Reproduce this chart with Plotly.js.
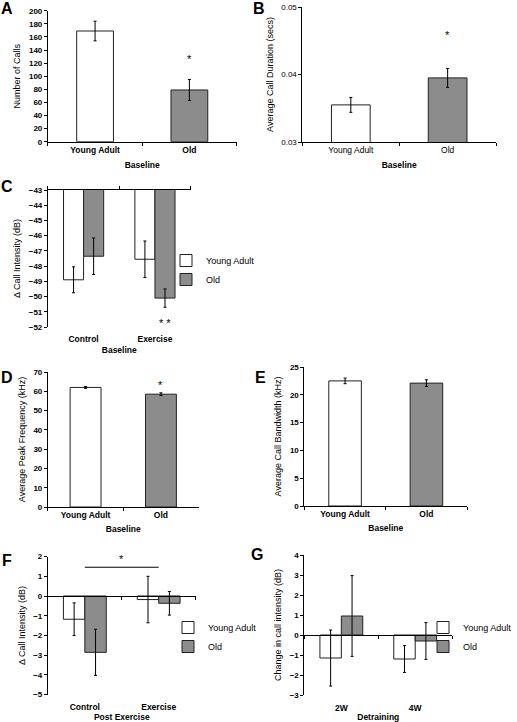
<!DOCTYPE html>
<html>
<head>
<meta charset="utf-8">
<script src="https://cdn.plot.ly/plotly-3.0.1.min.js"></script>
<style>html,body{margin:0;padding:0;background:#fff;}#chart{width:517px;height:722px;}</style>
</head>
<body>
<div id="chart"></div>
<script>
// ---------- data ----------
const baselineGroups = ['Young Adult', 'Old'];
const callsMean = [169, 79];
const callsErr = [15, 16];
const durationMean = [0.0355, 0.0395];
const durationErr = [0.0011, 0.0014];
const intensityCats = ['Control', 'Exercise'];
const intensityYA = [-48.9, -47.55];
const intensityYAErr = [0.85, 1.2];
const intensityOld = [-47.35, -50.1];
const intensityOldErr = [1.2, 0.6];
const peakMean = [62, 58.5];
const peakErr = [0.5, 0.7];
const bandwidthMean = [22.5, 22.1];
const bandwidthErr = [0.5, 0.6];
const postCats = ['Control', 'Exercise'];
const postYA = [-1.18, -0.18];
const postYAErr = [0.83, 1.18];
const postOld = [-2.86, -0.37];
const postOldErr = [1.17, 0.6];
const detrCats = ['2W', '4W'];
const detrYA = [-1.15, -1.2];
const detrYAErr = [1.4, 0.67];
const detrOld = [0.95, -0.3];
const detrOldErr = [2.02, 0.92];
const seriesNames = ['Young Adult', 'Old'];
// significance markers: [category, level]
const starA = ['Old', 126];
const starB = ['Old', 0.0458];
const starD = ['Old', 63.5];
const starC = ['Exercise', -51.75];
const sigF = ['Control', 'Exercise', 1.46];

// ---------- style ----------
const W = 517, H = 722;
const FONT = 'Liberation Sans, Arial, sans-serif';
const YA_FILL = '#ffffff', OLD_FILL = '#8c8c8c', EDGE = '#222222';
const px = (a, b) => [a / W, b / W];
const py = (top, bottom) => [1 - bottom / H, 1 - top / H];

function bar(xa, ya, x, y, err, fill, name, opts) {
  return Object.assign({
    type: 'bar', x: x, y: y, name: name, xaxis: xa, yaxis: ya,
    marker: {color: fill, line: {color: EDGE, width: 1}},
    error_y: {type: 'data', array: err, visible: true, color: '#000', thickness: 1, width: 1.5},
    showlegend: false, hoverinfo: 'skip'
  }, opts || {});
}
// placeholder trace so that an axis-line-only overlay axis gets drawn
function holder(xa, ya) {
  return {type: 'scatter', mode: 'markers', x: [null], y: [null], xaxis: xa, yaxis: ya,
          showlegend: false, hoverinfo: 'skip', marker: {opacity: 0}};
}

const gw = 0.29; // grouped bar width
const traces = [
  bar('x', 'y', baselineGroups, callsMean, callsErr, [YA_FILL, OLD_FILL], 'A', {width: 0.39}),
  bar('x2', 'y2', baselineGroups, durationMean, durationErr, [YA_FILL, OLD_FILL], 'B', {width: 0.40}),
  bar('x3', 'y3', intensityCats, intensityYA, intensityYAErr, YA_FILL, seriesNames[0], {width: gw * 0.97, offset: -gw * 0.97, showlegend: true, legend: 'legend'}),
  bar('x3', 'y3', intensityCats, intensityOld, intensityOldErr, OLD_FILL, seriesNames[1], {width: gw * 0.97, offset: 0, showlegend: true, legend: 'legend'}),
  bar('x4', 'y4', baselineGroups, peakMean, peakErr, [YA_FILL, OLD_FILL], 'D', {width: 0.41}),
  bar('x5', 'y5', baselineGroups, bandwidthMean, bandwidthErr, [YA_FILL, OLD_FILL], 'E', {width: 0.40}),
  bar('x6', 'y6', postCats, postYA, postYAErr, YA_FILL, seriesNames[0], {width: gw, offset: -gw, showlegend: true, legend: 'legend2'}),
  bar('x6', 'y6', postCats, postOld, postOldErr, OLD_FILL, seriesNames[1], {width: gw, offset: 0, showlegend: true, legend: 'legend2'}),
  bar('x7', 'y7', detrCats, detrYA, detrYAErr, YA_FILL, seriesNames[0], {width: gw, offset: -gw, showlegend: true, legend: 'legend3'}),
  bar('x7', 'y7', detrCats, detrOld, detrOldErr, OLD_FILL, seriesNames[1], {width: gw, offset: 0, showlegend: true, legend: 'legend3'}),
  holder('x8', 'y3'), holder('x9', 'y6'), holder('x10', 'y7')
];

const tickFont = (bold) => ({family: FONT, size: 8, color: '#000', weight: bold ? 'bold' : 'normal'});
function yAxis(domain, anchor, range, dtick, title, bold) {
  return {
    domain: domain, anchor: anchor, range: range, dtick: dtick, tick0: range[0],
    showgrid: false, zeroline: false, showline: true, linecolor: '#000', linewidth: 1,
    ticks: 'outside', ticklen: 3, tickcolor: '#000', tickwidth: 1,
    tickfont: tickFont(bold), fixedrange: true,
    title: {text: title, font: {family: FONT, size: 9, color: '#000'}, standoff: 6}
  };
}
function xAxis(domain, anchor, title, bold, withLine, nCats, labelGap, titleGap) {
  return {
    domain: domain, anchor: anchor, type: 'category', range: [-0.5, nCats - 0.5],
    showgrid: false, zeroline: false, showline: withLine, linecolor: '#000', linewidth: 1,
    ticks: withLine ? 'outside' : '', tickson: 'boundaries', ticklen: 3, tickcolor: '#000',
    ticklabelstandoff: labelGap || 0,
    tickfont: {family: FONT, size: 8.5, color: '#000', weight: bold ? 'bold' : 'normal'},
    fixedrange: true,
    title: {text: '<b>' + title + '</b>', font: {family: FONT, size: 8.5, color: '#000'}, standoff: titleGap || 5}
  };
}
// axis line through a given y level, with tick marks at category boundaries
function crossAxis(over, yAnchor, yDomain, yRange, crossAt, nCats, side) {
  const frac = (crossAt - yRange[0]) / (yRange[1] - yRange[0]);
  const ax = {
    overlaying: over, side: side,
    range: [-0.5, nCats - 0.5], tick0: -0.5, dtick: 1,
    showgrid: false, zeroline: false, showline: true, linecolor: '#000', linewidth: 1,
    ticks: 'outside', ticklen: 3, tickcolor: '#000', showticklabels: false, fixedrange: true
  };
  if (side === 'top') { ax.anchor = yAnchor; }
  else { ax.anchor = 'free'; ax.position = yDomain[0] + frac * (yDomain[1] - yDomain[0]); }
  return ax;
}

const dA = {x: px(48, 237), y: py(10.7, 141.7)};
const dB = {x: px(303, 497), y: py(7, 142)};
const dC = {x: px(48, 191), y: py(190, 327)};
const dD = {x: px(48, 199), y: py(372, 507)};
const dE = {x: px(305, 468), y: py(367, 506)};
const dF = {x: px(48, 196), y: py(556.6, 694.5)};
const dG = {x: px(305, 453), y: py(555, 695)};
const rC = [-52, -43], rF = [-5, 2], rG = [-3, 4];

const layout = {
  width: W, height: H, margin: {l: 0, r: 0, t: 0, b: 0},
  paper_bgcolor: '#fff', plot_bgcolor: 'rgba(0,0,0,0)',
  font: {family: FONT, color: '#000'},
  barmode: 'overlay',
  xaxis: xAxis(dA.x, 'y', 'Baseline', true, true, baselineGroups.length, 0, 8),
  yaxis: yAxis(dA.y, 'x', [0, 200], 20, 'Number of Calls', true),
  xaxis2: xAxis(dB.x, 'y2', 'Baseline', false, true, baselineGroups.length, 0, 7),
  yaxis2: yAxis(dB.y, 'x2', [0.03, 0.05], 0.01, 'Average Call Duration (secs)', false),
  xaxis3: xAxis(dC.x, 'y3', 'Baseline', true, false, intensityCats.length, 5, 4),
  yaxis3: yAxis(dC.y, 'x3', rC, 1, 'Δ Call Intensity (dB)', true),
  xaxis4: xAxis(dD.x, 'y4', 'Baseline', true, true, baselineGroups.length, 0, 6),
  yaxis4: yAxis(dD.y, 'x4', [0, 70], 10, 'Average Peak Frequency (kHz)', true),
  xaxis5: xAxis(dE.x, 'y5', 'Baseline', true, true, baselineGroups.length, 0, 6),
  yaxis5: yAxis(dE.y, 'x5', [0, 25], 5, 'Average Call Bandwidth (kHz)', true),
  xaxis6: xAxis(dF.x, 'y6', 'Post Exercise', true, false, postCats.length, 6, 4),
  yaxis6: yAxis(dF.y, 'x6', rF, 1, 'Δ Call Intensity (dB)', true),
  xaxis7: xAxis(dG.x, 'y7', 'Detraining', true, false, detrCats.length, 6, 4),
  yaxis7: yAxis(dG.y, 'x7', rG, 1, 'Change in call intensity (dB)', true),
  xaxis8: crossAxis('x3', 'y3', dC.y, rC, rC[1], intensityCats.length, 'top'),
  xaxis9: crossAxis('x6', 'y6', dF.y, rF, 0, postCats.length, 'bottom'),
  xaxis10: crossAxis('x7', 'y7', dG.y, rG, 0, detrCats.length, 'bottom'),
  legend: {x: 166 / W, y: 1 - 270 / H, xanchor: 'left', yanchor: 'middle', bgcolor: 'rgba(0,0,0,0)',
           font: {family: FONT, size: 9, color: '#000'}, tracegroupgap: 0},
  legend2: {x: 168 / W, y: 1 - 637 / H, xanchor: 'left', yanchor: 'middle', bgcolor: 'rgba(0,0,0,0)',
           font: {family: FONT, size: 9, color: '#000'}, tracegroupgap: 0},
  legend3: {x: 424 / W, y: 1 - 637 / H, xanchor: 'left', yanchor: 'middle', bgcolor: 'rgba(0,0,0,0)',
           font: {family: FONT, size: 9, color: '#000'}, tracegroupgap: 0},
  shapes: [
    {type: 'line', xref: 'x6', yref: 'y6', x0: postCats.indexOf(sigF[0]), x1: postCats.indexOf(sigF[1]),
     y0: sigF[2], y1: sigF[2], line: {color: '#000', width: 1}}
  ],
  annotations: []
};

const starFont = {family: FONT, size: 11, color: '#000'};
layout.annotations.push(
  {xref: 'x', yref: 'y', x: starA[0], y: starA[1], text: '*', showarrow: false, font: starFont},
  {xref: 'x2', yref: 'y2', x: starB[0], y: starB[1], text: '*', showarrow: false, font: starFont},
  {xref: 'x4', yref: 'y4', x: starD[0], y: starD[1], text: '*', showarrow: false, font: starFont},
  {xref: 'x3', yref: 'y3', x: intensityCats.indexOf(starC[0]) + gw / 2, y: starC[1], text: '* *', showarrow: false, font: starFont},
  {xref: 'x6', yref: 'y6', x: (postCats.indexOf(sigF[0]) + postCats.indexOf(sigF[1])) / 2, y: sigF[2], yanchor: 'bottom',
   text: '*', showarrow: false, font: starFont}
);
// panel letters
const letters = [['A', 7, 8], ['B', 260, 9], ['C', 7, 186], ['D', 7, 377], ['E', 261, 377], ['F', 7, 560], ['G', 257, 554]];
letters.forEach(([t, lx, ly]) => layout.annotations.push({
  xref: 'paper', yref: 'paper', x: lx / W, y: 1 - ly / H, xanchor: 'center', yanchor: 'middle',
  text: '<b>' + t + '</b>', showarrow: false, font: {family: FONT, size: 16, color: '#000'}
}));

Plotly.newPlot('chart', traces, layout, {staticPlot: true, displayModeBar: false});
</script>
</body>
</html>
